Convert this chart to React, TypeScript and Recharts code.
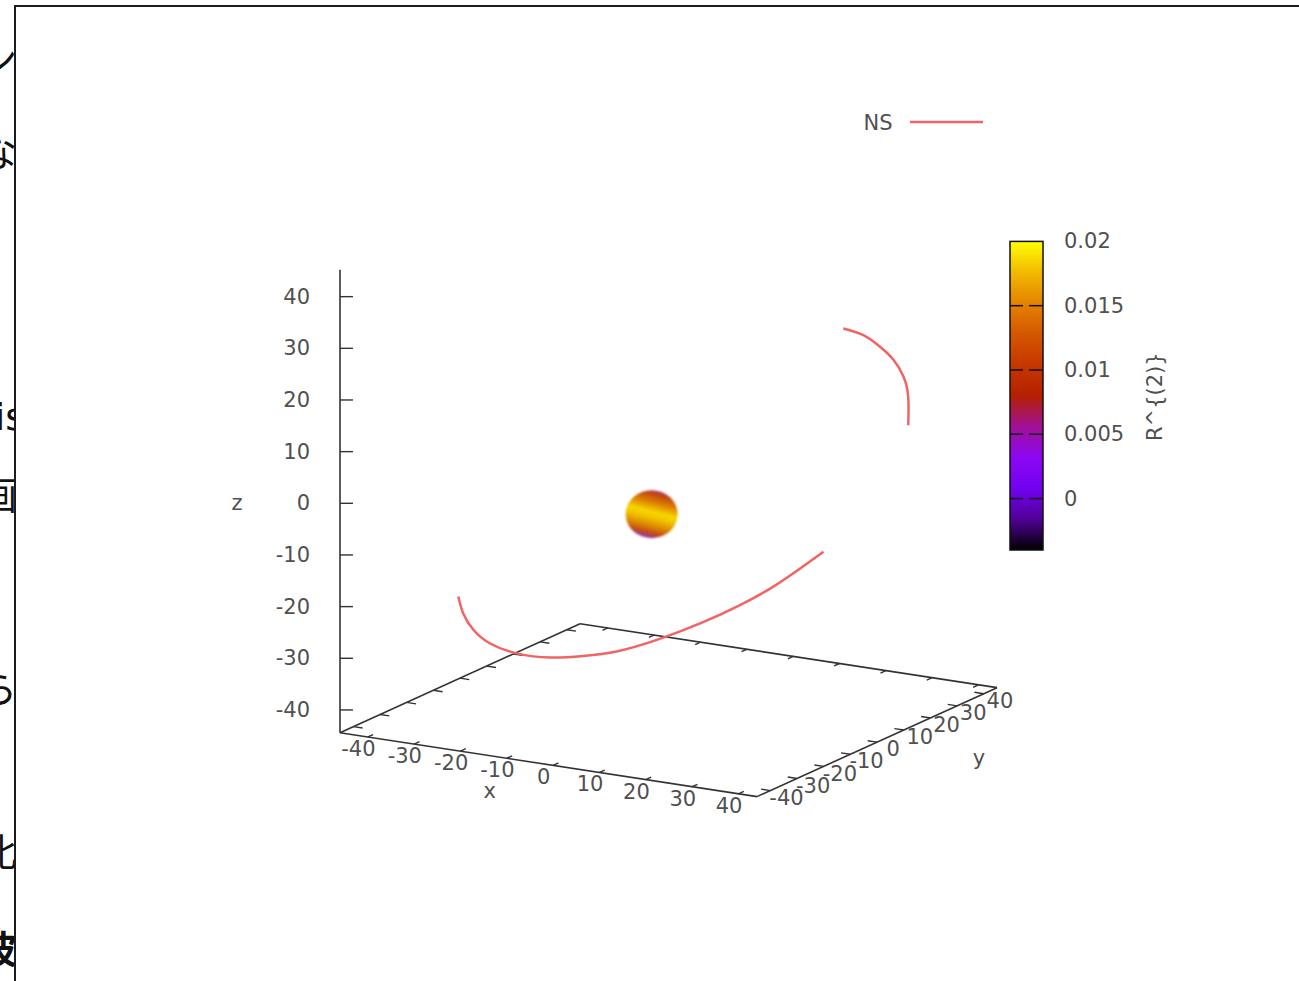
import React from 'react';
import { ComposedChart, BarChart, Bar, Line, Scatter, XAxis, YAxis, ReferenceLine, Legend } from 'recharts';

// 3D box ranges
const X_RANGE = [-46, 44];
const Y_RANGE = [-45, 45];
const Z_RANGE = [-44.4, 45.2];
const X_TICKS = [-40, -30, -20, -10, 0, 10, 20, 30, 40];
const Y_TICKS = [-40, -30, -20, -10, 0, 10, 20, 30, 40];
const Z_TICKS = [-40, -30, -20, -10, 0, 10, 20, 30, 40];

// NS trajectory, the two pieces that are visible [x, y, z]
const NS_ARC_LOW = [
    [-36.0, -18.0, -23.0],
    [-35.2, -17.6, -26.2],
    [-33.5, -16.7, -29.4],
    [-30.7, -15.3, -32.0],
    [-26.2, -13.1, -33.8],
    [-20.6, -10.3, -34.5],
    [-15.1, -7.5, -34.1],
    [-9.5, -4.7, -33.1],
    [-2.7, -1.4, -30.7],
    [4.5, 2.3, -27.4],
    [11.2, 5.6, -23.7],
    [16.8, 8.4, -20.0],
    [21.3, 10.6, -16.4],
    [25.2, 12.6, -13.1],
];
const NS_ARC_HIGH = [
    [28.5, 14.3, 30.2],
    [31.9, 15.9, 29.0],
    [34.7, 17.3, 26.8],
    [36.9, 18.5, 24.3],
    [38.6, 19.3, 21.1],
    [39.4, 19.7, 17.2],
    [39.4, 19.7, 11.7],
];
// the small coloured sphere
const STAR_CENTER = [-3.6, -1.8, -6.4];

// colour box
const CB_RANGE = [-0.004, 0.02];
const CB_TICKS = [0, 0.005, 0.01, 0.015, 0.02];
const CB_LABELS = ['0', '0.005', '0.01', '0.015', '0.02'];

const W = 1299;
const H = 981;
const TEXT = '#505050';
const AXIS = '#333';
const NS_COLOR = '#f26464';
const FONT = '"DejaVu Sans", sans-serif';

// view: one unit of y moves like 0.5757 units of x on screen, etc.
const PX_U = 4.633;
const PX_W = 5.166;
const U_DOMAIN = [0, 150];
const W_DOMAIN = [-62, 55];
const ORIGIN_LEFT = 340;
const W0_TOP = 503.3;
const AXIS_W = 120;
const TIC = 2;

const proj = (x: number, y: number, z: number) => ({
    u: (x - X_RANGE[0]) + 0.5757 * (y - Y_RANGE[0]),
    w: z - 0.1376 * (x - X_RANGE[0]) + 0.2344 * (y - Y_RANGE[0]),
});
const seg = (a: number[], b: number[]) => {
    const p = proj(a[0], a[1], a[2]);
    const q = proj(b[0], b[1], b[2]);
    return [{ x: p.u, y: p.w }, { x: q.u, y: q.w }];
};

const [XMIN, XMAX] = X_RANGE;
const [YMIN, YMAX] = Y_RANGE;
const [ZMIN, ZMAX] = Z_RANGE;

const boxEdges = [
    seg([XMIN, YMIN, ZMIN], [XMAX, YMIN, ZMIN]),
    seg([XMAX, YMIN, ZMIN], [XMAX, YMAX, ZMIN]),
    seg([XMAX, YMAX, ZMIN], [XMIN, YMAX, ZMIN]),
    seg([XMIN, YMAX, ZMIN], [XMIN, YMIN, ZMIN]),
    seg([XMIN, YMIN, ZMIN], [XMIN, YMIN, ZMAX]),
];
const tickSegs = [
    ...X_TICKS.map((t) => seg([t, YMIN, ZMIN], [t, YMIN + TIC, ZMIN])),
    ...X_TICKS.map((t) => seg([t, YMAX, ZMIN], [t, YMAX - TIC, ZMIN])),
    ...Y_TICKS.map((t) => seg([XMAX, t, ZMIN], [XMAX - TIC, t, ZMIN])),
    ...Y_TICKS.map((t) => seg([XMIN, t, ZMIN], [XMIN + TIC, t, ZMIN])),
    ...Z_TICKS.map((t) => [{ x: 0, y: t }, { x: 2.8, y: t }]),
];

const toPoints = (arr: number[][]) => arr.map((p) => proj(p[0], p[1], p[2]));
const xLabels = X_TICKS.map((t) => ({ ...proj(t, YMIN - 3.5, ZMIN - 1.5), label: String(t) }));
const yLabels = Y_TICKS.map((t) => ({ ...proj(XMAX + 3.5, t, ZMIN - 0.9), label: String(t) }));
const axisNames = [
    { ...proj((XMIN + XMAX) / 2, YMIN - 22, ZMIN), label: 'x' },
    { ...proj(XMAX + 22, (YMIN + YMAX) / 2, ZMIN), label: 'y' },
];

const margin = {
    top: W0_TOP - W_DOMAIN[1] * PX_W,
    bottom: H - (W0_TOP - W_DOMAIN[0] * PX_W),
    left: ORIGIN_LEFT - AXIS_W,
    right: W - ORIGIN_LEFT - (U_DOMAIN[1] - U_DOMAIN[0]) * PX_U,
};

const PALETTE = [
    [0, '#000000'], [0.1, '#510096'], [0.2, '#7202f2'], [0.3, '#8c07f2'], [0.4, '#a11096'],
    [0.5, '#b42000'], [0.6, '#c63700'], [0.7, '#d55700'], [0.8, '#e48300'], [0.9, '#f2ba00'], [1, '#ffff00'],
];

const TextMark = (props: any) => (
    <text x={props.cx} y={props.cy} textAnchor="middle" dominantBaseline="central"
        fontSize={21} fontFamily={FONT} fill={TEXT}>{props.payload.label}</text>
);
const StarMark = (props: any) => (
    <ellipse cx={props.cx} cy={props.cy} rx={26} ry={24} fill="url(#starFill)" filter="url(#soft)" />
);

const ZTick = (props: any) => (
    <text x={props.x} y={props.y} textAnchor="end" dominantBaseline="central"
        fontSize={21} fontFamily={FONT} fill={TEXT}>{props.payload.value}</text>
);
const zLabel = ({ viewBox }: any) => (
    <text x={viewBox.x + 17} y={viewBox.y + viewBox.height / 2 - 18} textAnchor="middle"
        dominantBaseline="central" fontSize={21} fontFamily={FONT} fill={TEXT}>z</text>
);

const renderLegend = ({ payload }: any) => (
    <svg width={150} height={30}>
        {(payload || []).slice(0, 1).map((e: any) => (
            <g key={e.value}>
                <text x={28} y={15} textAnchor="middle" dominantBaseline="central"
                    fontSize={21} fontFamily={FONT} fill={TEXT}>{e.value}</text>
                <line x1={60} x2={133} y1={14} y2={14} stroke={NS_COLOR} strokeWidth={2.5} />
            </g>
        ))}
    </svg>
);

const CbTick = (props: any) => (
    <text x={props.x} y={props.y} textAnchor="start" dominantBaseline="central"
        fontSize={21} fontFamily={FONT} fill={TEXT}>
        {CB_LABELS[CB_TICKS.indexOf(props.payload.value)]}
    </text>
);
const cbLabel = ({ viewBox }: any) => {
    const cx = viewBox.x + 112;
    const cy = viewBox.y + viewBox.height / 2 + 1;
    return (
        <text x={cx} y={cy} transform={`rotate(-90 ${cx} ${cy})`} textAnchor="middle"
            dominantBaseline="central" fontSize={21} fontFamily={FONT} fill={TEXT}>R^{'{(2)}'}</text>
    );
};
const CbShape = (props: any) => {
    const { x, y, width, height } = props;
    const span = CB_RANGE[1] - CB_RANGE[0];
    return (
        <g>
            <rect x={x} y={y} width={width} height={height} fill="url(#cbFill)" stroke="#111" strokeWidth={1.5} />
            {CB_TICKS.slice(0, -1).map((t) => {
                const ty = y + (height * (CB_RANGE[1] - t)) / span;
                return (
                    <g key={t}>
                        <line x1={x} x2={x + 13} y1={ty} y2={ty} stroke="#111" strokeWidth={1.5} />
                        <line x1={x + width - 14} x2={x + width} y1={ty} y2={ty} stroke="#111" strokeWidth={1.5} />
                    </g>
                );
            })}
        </g>
    );
};

const SIDE_TEXT = [
    { ch: 'ン', top: 36, cut: 17 },
    { ch: 'な', top: 129, cut: 17 },
    { ch: 'is', top: 396, cut: 25, latin: true },
    { ch: '画', top: 472, cut: 17 },
    { ch: 'ら', top: 666, cut: 17 },
    { ch: '比', top: 829, cut: 17 },
    { ch: '波', top: 926, cut: 17, bold: true },
];

export default function App() {
    return (
        <div style={{ position: 'absolute', left: 0, top: 0, width: W, height: H, overflow: 'hidden', background: '#fff' }}>
            {SIDE_TEXT.map((s) => (
                <div key={s.top} style={{
                    position: 'absolute', top: s.top, right: W - s.cut, fontSize: 38, lineHeight: '42px',
                    fontFamily: s.latin ? FONT : '"Noto Sans CJK JP", sans-serif',
                    fontWeight: s.bold ? 700 : 400, color: '#111', whiteSpace: 'nowrap',
                }}>{s.ch}</div>
            ))}
            <div style={{
                position: 'absolute', left: 14, top: 5, width: W, height: H,
                borderTop: '2px solid #1c1c1c', borderLeft: '2px solid #1c1c1c', background: '#fff',
            }} />
            <div style={{ position: 'absolute', left: 0, top: 0 }}>
                <ComposedChart width={W} height={H} margin={margin}>
                    <defs>
                        <linearGradient id="starFill" x1="0.64" y1="0" x2="0.36" y2="1">
                            <stop offset="0%" stopColor="#a8309a" />
                            <stop offset="9%" stopColor="#c24410" />
                            <stop offset="28%" stopColor="#df8600" />
                            <stop offset="45%" stopColor="#f7d600" />
                            <stop offset="56%" stopColor="#f3c400" />
                            <stop offset="72%" stopColor="#de8c00" />
                            <stop offset="87%" stopColor="#c04a18" />
                            <stop offset="100%" stopColor="#8b30d8" />
                        </linearGradient>
                        <filter id="soft" x="-20%" y="-20%" width="140%" height="140%">
                            <feGaussianBlur stdDeviation="0.9" />
                        </filter>
                    </defs>
                    <XAxis type="number" dataKey="u" domain={U_DOMAIN} hide allowDataOverflow />
                    <YAxis type="number" dataKey="w" domain={W_DOMAIN} ticks={Z_TICKS} interval={0}
                        width={AXIS_W} axisLine={false} tickLine={false} tickSize={0} tickMargin={30}
                        tick={<ZTick />} label={{ content: zLabel }} allowDataOverflow />
                    <Legend layout="horizontal" verticalAlign="middle" align="center" content={renderLegend}
                        wrapperStyle={{ left: 850, top: 108, width: 150, height: 30 }} />
                    {boxEdges.map((s, i) => (
                        <ReferenceLine key={`e${i}`} segment={s} stroke={AXIS} strokeWidth={1.6} ifOverflow="visible" />
                    ))}
                    {tickSegs.map((s, i) => (
                        <ReferenceLine key={`t${i}`} segment={s} stroke={AXIS} strokeWidth={1.4} ifOverflow="visible" />
                    ))}
                    <Line name="NS" data={toPoints(NS_ARC_LOW)} dataKey="w" type="natural" stroke={NS_COLOR}
                        strokeWidth={2.5} dot={false} activeDot={false} isAnimationActive={false} />
                    <Line name="NS2" data={toPoints(NS_ARC_HIGH)} dataKey="w" type="natural" stroke={NS_COLOR}
                        strokeWidth={2.5} dot={false} activeDot={false} legendType="none" isAnimationActive={false} />
                    <Scatter name="star" data={toPoints([STAR_CENTER])} shape={StarMark} legendType="none" isAnimationActive={false} />
                    <Scatter name="xticks" data={xLabels} shape={TextMark} legendType="none" isAnimationActive={false} />
                    <Scatter name="yticks" data={yLabels} shape={TextMark} legendType="none" isAnimationActive={false} />
                    <Scatter name="names" data={axisNames} shape={TextMark} legendType="none" isAnimationActive={false} />
                </ComposedChart>
            </div>
            <div style={{ position: 'absolute', left: 0, top: 0 }}>
                <BarChart width={W} height={H} data={[{ name: 'cb', span: CB_RANGE }]} barCategoryGap={0}
                    margin={{ left: 1010, right: W - 1043 - 150, top: 241.4, bottom: H - 550 }}>
                    <defs>
                        <linearGradient id="cbFill" x1="0" y1="1" x2="0" y2="0">
                            {PALETTE.map(([o, c]) => (
                                <stop key={String(o)} offset={`${(o as number) * 100}%`} stopColor={c as string} />
                            ))}
                        </linearGradient>
                    </defs>
                    <XAxis dataKey="name" hide />
                    <YAxis orientation="right" type="number" domain={CB_RANGE} ticks={CB_TICKS} interval={0}
                        width={150} axisLine={false} tickLine={false} tickSize={0} tickMargin={21}
                        tick={<CbTick />} label={{ content: cbLabel }} />
                    <Bar dataKey="span" shape={CbShape} isAnimationActive={false} />
                </BarChart>
            </div>
        </div>
    );
}
